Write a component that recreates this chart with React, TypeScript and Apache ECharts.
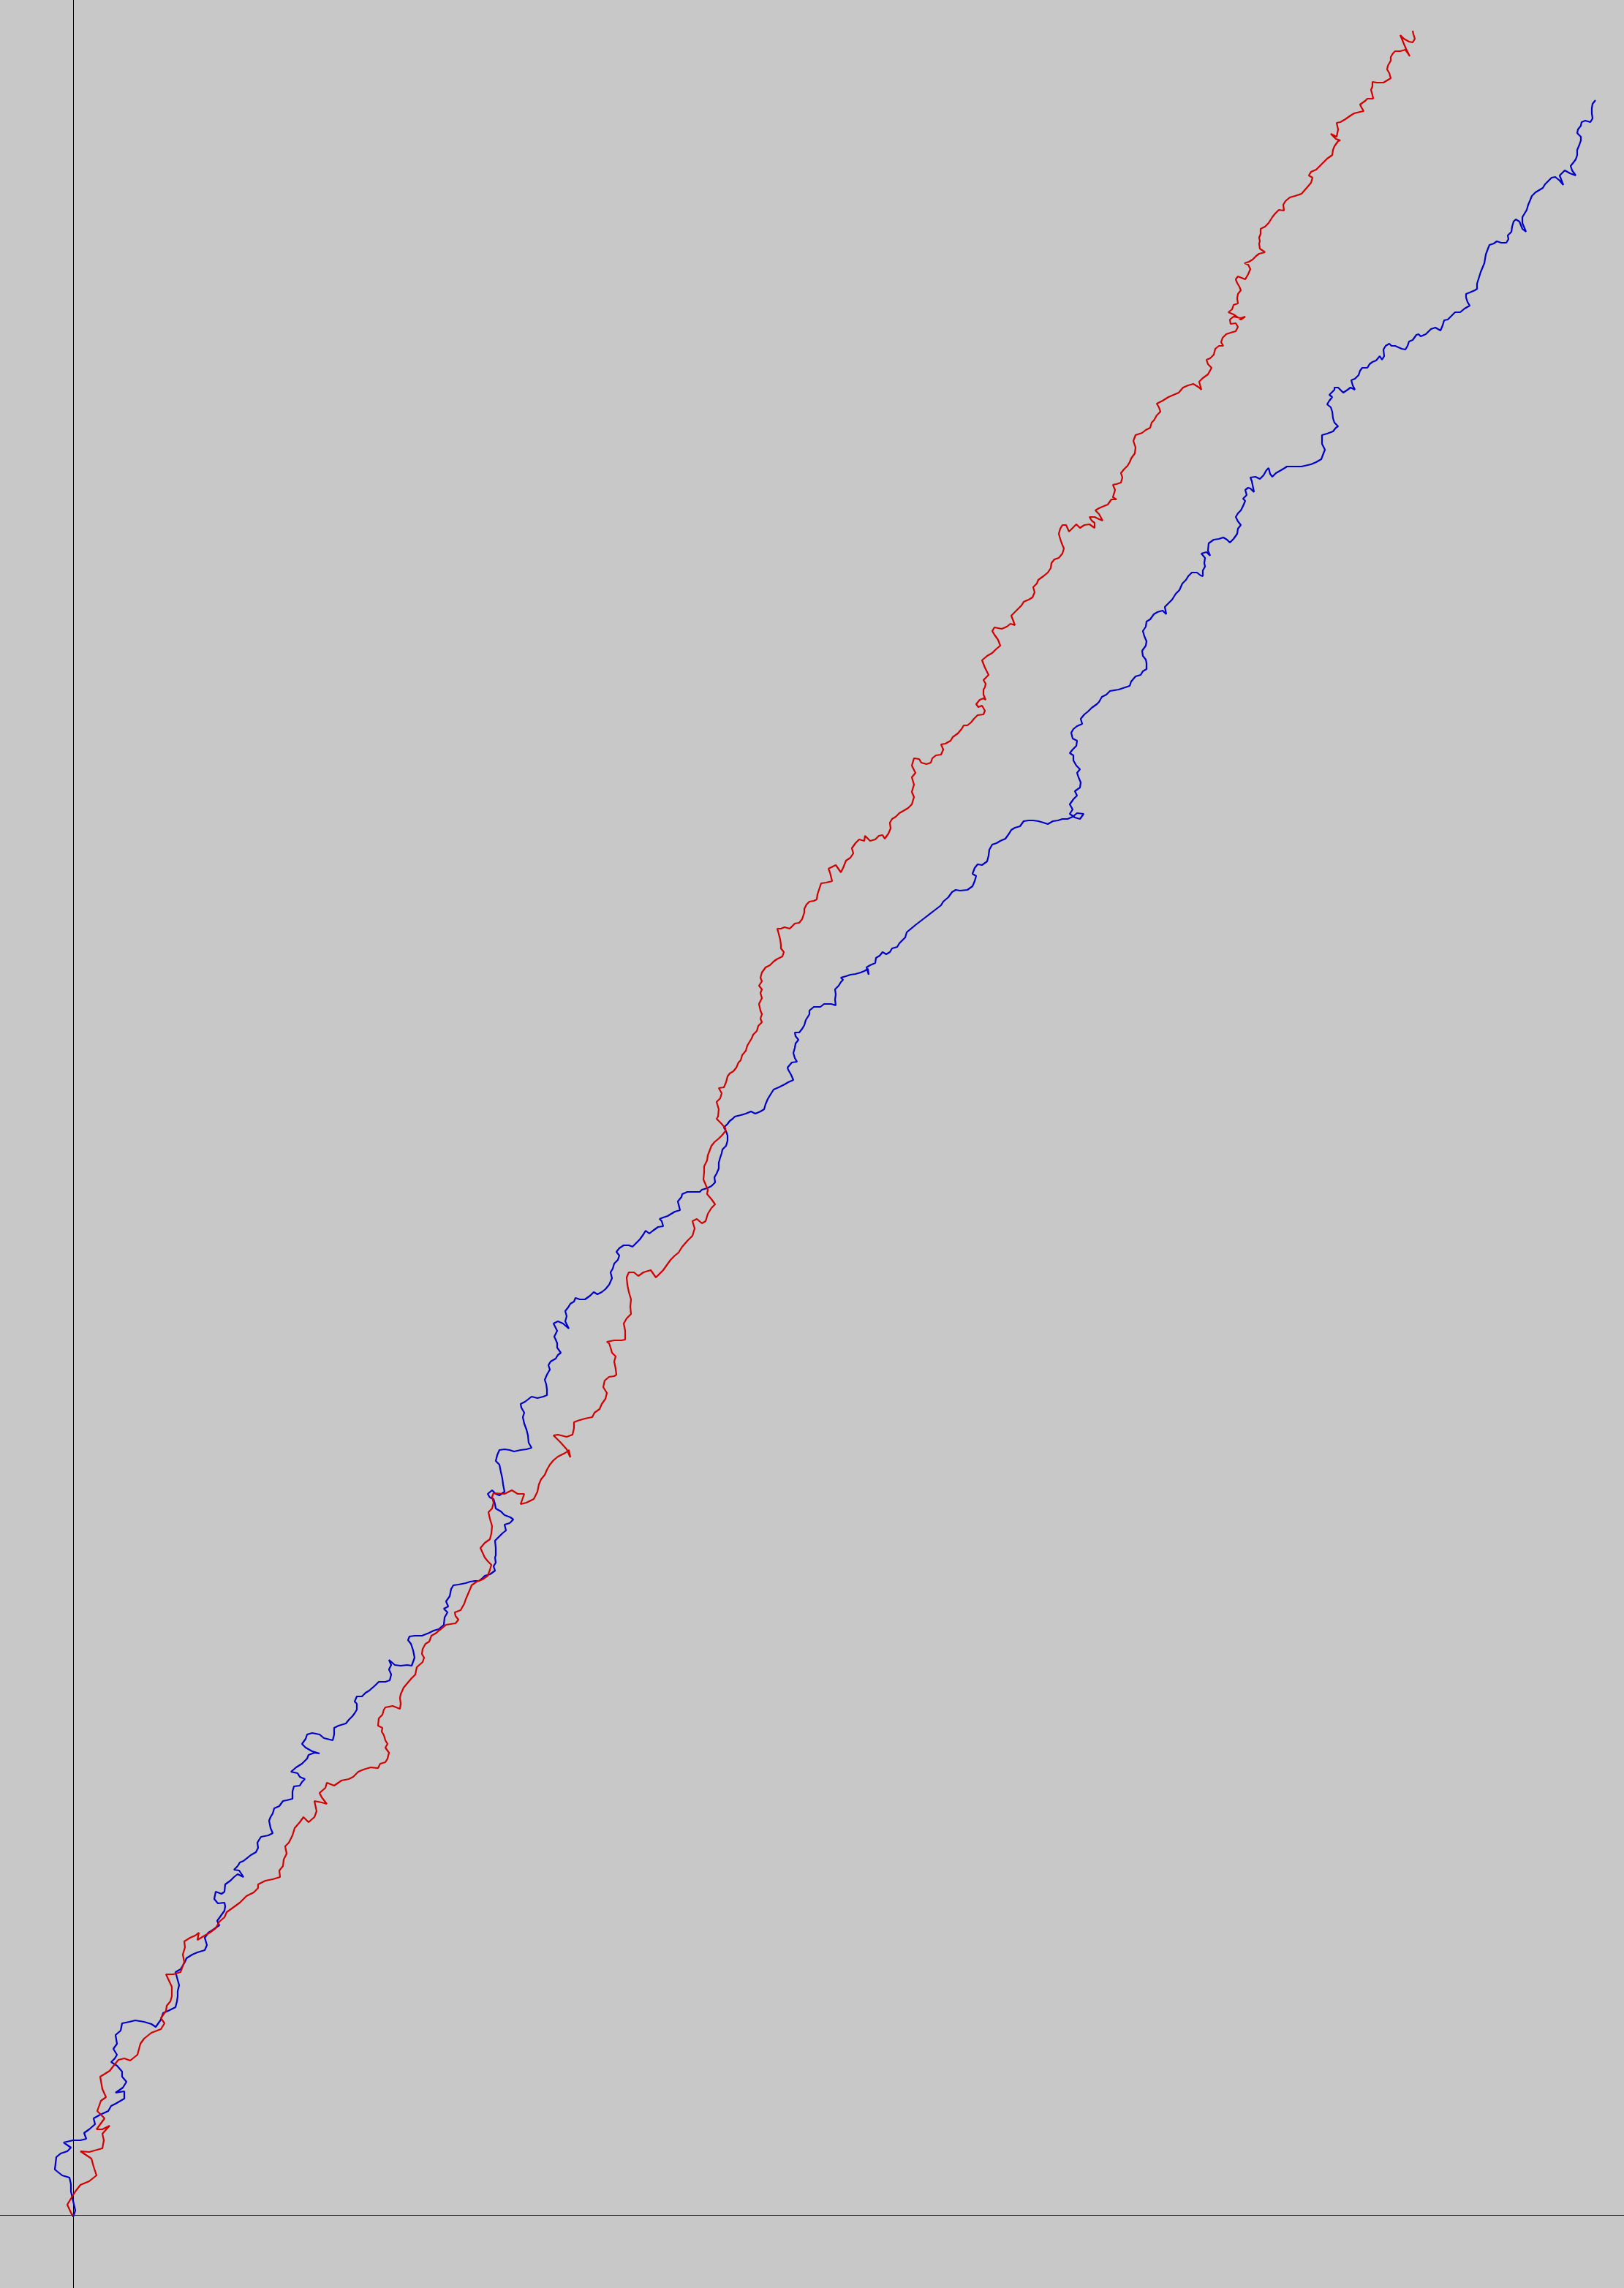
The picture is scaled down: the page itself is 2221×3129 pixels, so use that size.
import React, { useEffect, useRef } from "react";
import * as echarts from "echarts";

// Two 2D random walks; coordinates in walk units (origin at the axes crossing).
const redWalk: [number, number][] = [
  [0, 0], [-2, 1], [-8, 14], [3, 32], [10, 41], [22, 46], [32, 54], [28, 66], [25, 77], [10, 87],
  [22, 86], [40, 91], [42, 102], [40, 111], [50, 122], [40, 117], [32, 117], [43, 132], [33, 142], [38, 156],
  [45, 161], [40, 172], [37, 189], [42, 192], [50, 197], [57, 206], [62, 212], [70, 214], [78, 211], [88, 219],
  [92, 234], [97, 241], [107, 249], [120, 254], [125, 262], [120, 269], [127, 279], [128, 286], [133, 292], [135, 299],
  [135, 312], [127, 329], [137, 329], [147, 332], [152, 346], [150, 356], [153, 366], [152, 374], [160, 379], [167, 382],
  [172, 386], [170, 376], [180, 382], [187, 386], [195, 392], [200, 401], [207, 407], [210, 414], [217, 419], [228, 427],
  [237, 436], [247, 441], [253, 447], [253, 452], [263, 457], [273, 459], [283, 462], [282, 471], [287, 477], [288, 486],
  [292, 494], [290, 504], [295, 509], [300, 519], [303, 529], [310, 537], [315, 544], [322, 537], [330, 544], [333, 552],
  [330, 566], [340, 564], [347, 562], [340, 571], [337, 577], [345, 584], [347, 591], [357, 587], [367, 594], [377, 596],
  [383, 599], [390, 606], [397, 609], [407, 612], [417, 611], [420, 617], [427, 619], [430, 624], [432, 632], [427, 639],
  [430, 644], [427, 649], [425, 656], [422, 661], [423, 666], [417, 669], [418, 679], [423, 684], [425, 691], [427, 694],
  [437, 696], [447, 692], [448, 699], [447, 707], [448, 712], [452, 721], [457, 727], [463, 734], [468, 739], [470, 749],
  [478, 756], [480, 762], [477, 767], [478, 774], [482, 781], [487, 784], [490, 792], [497, 796], [500, 799], [503, 801],
  [510, 807], [523, 809], [527, 814], [523, 819], [522, 824], [530, 827], [535, 836], [537, 842], [540, 849], [543, 856],
  [545, 861], [552, 866], [560, 869], [567, 874], [570, 882], [572, 889], [567, 894], [563, 899], [557, 912], [563, 919],
  [570, 924], [572, 932], [573, 942], [570, 952], [568, 961], [573, 966], [575, 974], [573, 982], [575, 987], [590, 986],
  [600, 991], [608, 986], [617, 986], [612, 972], [620, 974], [630, 979], [635, 989], [637, 999], [640, 1006], [645, 1012],
  [648, 1019], [652, 1026], [657, 1032], [663, 1037], [673, 1042], [678, 1046], [680, 1036], [675, 1047], [667, 1056], [662, 1061],
  [657, 1066], [663, 1067], [675, 1064], [683, 1067], [685, 1076], [685, 1084], [690, 1086], [700, 1089], [710, 1091], [713, 1097],
  [720, 1102], [723, 1109], [728, 1116], [730, 1124], [725, 1132], [727, 1141], [733, 1146], [740, 1147], [743, 1149], [742, 1157],
  [740, 1167], [742, 1174], [737, 1179], [735, 1186], [733, 1192], [730, 1194], [740, 1196], [750, 1196], [755, 1197], [755, 1209],
  [753, 1219], [757, 1226], [763, 1232], [762, 1242], [763, 1252], [760, 1262], [758, 1272], [757, 1282], [760, 1289], [767, 1289],
  [773, 1284], [780, 1289], [790, 1292], [797, 1282], [802, 1287], [807, 1292], [812, 1299], [817, 1306], [823, 1312], [828, 1316],
  [833, 1324], [840, 1332], [847, 1339], [850, 1349], [847, 1359], [853, 1362], [860, 1356], [865, 1359], [868, 1369], [873, 1377],
  [878, 1382], [873, 1389], [867, 1396], [868, 1402], [865, 1409], [862, 1416], [863, 1426], [863, 1434], [867, 1442], [868, 1449],
  [873, 1462], [877, 1467], [883, 1472], [887, 1476], [892, 1482], [892, 1486], [887, 1492], [883, 1496], [880, 1499], [882, 1502],
  [883, 1512], [880, 1522], [885, 1527], [887, 1534], [883, 1541], [890, 1542], [893, 1549], [895, 1557], [898, 1561], [903, 1564],
  [907, 1569], [910, 1576], [913, 1579], [915, 1586], [920, 1592], [922, 1599], [925, 1604], [928, 1609], [930, 1614], [935, 1619],
  [937, 1626], [942, 1631], [940, 1636], [942, 1642], [940, 1647], [938, 1656], [942, 1664], [940, 1671], [942, 1676], [938, 1681],
  [942, 1687], [940, 1692], [942, 1699], [947, 1706], [953, 1709], [958, 1714], [962, 1717], [970, 1721], [972, 1727], [968, 1732],
  [968, 1737], [967, 1744], [965, 1752], [963, 1759], [968, 1759], [973, 1761], [980, 1759], [983, 1762], [987, 1766], [993, 1767],
  [997, 1772], [1000, 1781], [1000, 1786], [1003, 1792], [1007, 1796], [1013, 1797], [1017, 1799], [1018, 1806], [1020, 1812], [1023, 1821],
  [1030, 1822], [1038, 1824], [1035, 1836], [1033, 1841], [1043, 1846], [1050, 1836], [1053, 1842], [1057, 1852], [1063, 1856], [1067, 1862],
  [1065, 1869], [1070, 1876], [1075, 1881], [1082, 1879], [1083, 1886], [1090, 1879], [1097, 1881], [1102, 1886], [1107, 1887], [1110, 1882],
  [1115, 1889], [1118, 1896], [1117, 1904], [1120, 1909], [1125, 1912], [1130, 1917], [1137, 1921], [1142, 1924], [1147, 1929], [1150, 1939],
  [1147, 1946], [1150, 1956], [1147, 1966], [1152, 1972], [1147, 1982], [1150, 1992], [1157, 1991], [1160, 1986], [1167, 1984], [1173, 1986],
  [1175, 1992], [1180, 1996], [1187, 1997], [1190, 2004], [1187, 2011], [1193, 2012], [1200, 2016], [1203, 2021], [1210, 2026], [1215, 2032],
  [1218, 2037], [1223, 2037], [1228, 2041], [1232, 2046], [1237, 2051], [1245, 2052], [1247, 2057], [1243, 2064], [1238, 2062], [1235, 2066],
  [1240, 2072], [1245, 2074], [1248, 2072], [1245, 2079], [1245, 2086], [1247, 2089], [1248, 2094], [1245, 2099], [1252, 2106], [1247, 2116],
  [1243, 2126], [1250, 2132], [1257, 2136], [1262, 2141], [1268, 2146], [1265, 2154], [1260, 2161], [1257, 2166], [1260, 2171], [1270, 2169],
  [1277, 2172], [1282, 2176], [1288, 2174], [1285, 2182], [1283, 2187], [1290, 2194], [1297, 2201], [1300, 2206], [1307, 2209], [1312, 2212],
  [1315, 2219], [1313, 2226], [1318, 2231], [1320, 2236], [1327, 2241], [1333, 2246], [1337, 2252], [1338, 2259], [1342, 2264], [1348, 2266],
  [1353, 2272], [1355, 2279], [1352, 2286], [1350, 2292], [1348, 2299], [1350, 2306], [1353, 2311], [1358, 2311], [1362, 2302], [1367, 2307],
  [1372, 2312], [1377, 2307], [1383, 2311], [1390, 2312], [1397, 2307], [1397, 2314], [1393, 2317], [1390, 2322], [1397, 2322], [1403, 2319],
  [1408, 2317], [1403, 2326], [1398, 2331], [1403, 2334], [1410, 2337], [1415, 2339], [1420, 2346], [1427, 2346], [1422, 2349], [1425, 2359],
  [1422, 2366], [1427, 2367], [1433, 2369], [1435, 2376], [1433, 2382], [1437, 2387], [1442, 2392], [1445, 2397], [1447, 2402], [1452, 2409],
  [1453, 2417], [1450, 2426], [1453, 2434], [1462, 2437], [1467, 2441], [1473, 2444], [1475, 2451], [1478, 2454], [1482, 2461], [1487, 2466],
  [1485, 2472], [1482, 2477], [1490, 2481], [1498, 2486], [1505, 2489], [1512, 2492], [1518, 2499], [1525, 2502], [1532, 2504], [1540, 2499],
  [1543, 2496], [1540, 2507], [1545, 2512], [1552, 2517], [1557, 2526], [1552, 2531], [1550, 2537], [1555, 2539], [1560, 2544], [1562, 2552],
  [1567, 2556], [1573, 2556], [1570, 2561], [1572, 2567], [1577, 2572], [1583, 2574], [1590, 2576], [1593, 2582], [1590, 2587], [1583, 2586],
  [1582, 2592], [1587, 2596], [1597, 2594], [1603, 2596], [1597, 2592], [1587, 2599], [1580, 2602], [1585, 2606], [1587, 2612], [1593, 2614],
  [1592, 2621], [1593, 2627], [1597, 2632], [1595, 2637], [1592, 2642], [1590, 2647], [1593, 2651], [1603, 2647], [1607, 2654], [1610, 2661],
  [1607, 2667], [1602, 2669], [1608, 2671], [1613, 2674], [1618, 2679], [1622, 2682], [1630, 2684], [1623, 2689], [1622, 2696], [1623, 2699],
  [1622, 2704], [1624, 2709], [1624, 2716], [1630, 2719], [1635, 2724], [1640, 2732], [1644, 2737], [1649, 2742], [1656, 2741], [1655, 2749],
  [1658, 2754], [1664, 2759], [1671, 2761], [1680, 2764], [1687, 2772], [1693, 2779], [1695, 2786], [1690, 2789], [1693, 2794], [1700, 2797],
  [1705, 2802], [1710, 2807], [1715, 2812], [1722, 2817], [1723, 2824], [1725, 2829], [1730, 2836], [1733, 2837], [1727, 2839], [1720, 2846],
  [1728, 2842], [1730, 2852], [1728, 2861], [1733, 2862], [1740, 2866], [1747, 2871], [1752, 2874], [1760, 2876], [1765, 2877], [1762, 2882],
  [1760, 2886], [1767, 2891], [1770, 2894], [1778, 2894], [1777, 2899], [1775, 2906], [1777, 2911], [1777, 2917], [1783, 2916], [1792, 2916],
  [1797, 2919], [1802, 2922], [1800, 2929], [1797, 2934], [1798, 2939], [1802, 2946], [1802, 2951], [1805, 2956], [1808, 2959], [1815, 2959],
  [1822, 2961], [1827, 2954], [1828, 2952], [1823, 2962], [1820, 2969], [1815, 2981], [1820, 2976], [1827, 2972], [1832, 2971], [1835, 2976],
  [1833, 2982], [1832, 2987],
];

const blueWalk: [number, number][] = [
  [0, 0], [0, -3], [3, 6], [0, 19], [-3, 32], [-3, 42], [-5, 51], [-15, 54], [-25, 62], [-23, 79],
  [-17, 84], [-8, 87], [-3, 92], [-13, 99], [0, 102], [10, 102], [18, 104], [15, 112], [22, 117], [30, 124],
  [28, 132], [37, 137], [48, 142], [52, 149], [58, 152], [70, 159], [70, 169], [58, 167], [68, 174], [73, 182],
  [67, 189], [67, 196], [60, 204], [52, 209], [57, 214], [60, 219], [55, 227], [60, 234], [58, 246], [65, 252],
  [67, 262], [77, 264], [85, 266], [97, 264], [107, 261], [113, 257], [120, 267], [123, 276], [130, 279], [140, 284],
  [142, 292], [143, 299], [143, 306], [145, 314], [140, 332], [147, 336], [153, 346], [155, 351], [163, 356], [170, 359],
  [180, 362], [183, 369], [180, 379], [185, 386], [190, 389], [197, 394], [200, 396], [197, 402], [202, 409], [207, 416],
  [208, 422], [207, 427], [198, 426], [193, 432], [195, 442], [203, 439], [207, 442], [208, 452], [215, 457], [220, 462],
  [225, 466], [233, 462], [227, 471], [220, 472], [225, 477], [228, 482], [233, 484], [243, 492], [250, 496], [253, 502],
  [252, 509], [255, 514], [257, 517], [267, 519], [273, 522], [270, 529], [268, 539], [270, 544], [273, 549], [275, 556],
  [282, 559], [287, 566], [292, 567], [300, 569], [300, 579], [302, 586], [310, 587], [313, 592], [317, 596], [310, 599],
  [307, 604], [298, 606], [305, 612], [313, 617], [320, 624], [322, 629], [330, 632], [337, 631], [327, 634], [318, 639],
  [313, 644], [318, 651], [320, 657], [327, 659], [337, 657], [343, 652], [355, 649], [357, 657], [357, 666], [363, 669],
  [373, 672], [377, 677], [382, 682], [385, 686], [388, 691], [388, 699], [385, 702], [388, 709], [395, 709], [400, 714],
  [405, 717], [413, 724], [418, 729], [427, 729], [433, 731], [435, 739], [432, 746], [435, 752], [432, 759], [440, 752],
  [448, 751], [457, 752], [463, 751], [467, 762], [465, 772], [462, 781], [458, 786], [460, 791], [467, 792], [477, 792],
  [487, 796], [493, 799], [500, 801], [507, 807], [508, 817], [512, 824], [507, 829], [513, 832], [510, 839], [515, 846],
  [517, 856], [520, 861], [527, 862], [537, 864], [543, 866], [550, 867], [555, 867], [560, 871], [563, 874], [570, 876],
  [577, 881], [575, 887], [578, 892], [577, 899], [578, 902], [578, 912], [577, 922], [582, 927], [587, 932], [592, 936],
  [590, 944], [597, 946], [602, 951], [598, 954], [590, 957], [585, 962], [578, 966], [577, 972], [575, 979], [570, 981],
  [567, 986], [573, 991], [578, 986], [583, 984], [590, 989], [588, 999], [587, 1007], [585, 1016], [583, 1026], [578, 1031],
  [580, 1039], [583, 1046], [590, 1047], [597, 1046], [603, 1044], [612, 1046], [620, 1047], [627, 1049], [623, 1056], [622, 1066],
  [620, 1074], [617, 1082], [615, 1091], [617, 1097], [613, 1104], [612, 1109], [618, 1112], [627, 1119], [635, 1117], [643, 1119],
  [648, 1121], [648, 1129], [647, 1136], [645, 1142], [648, 1149], [652, 1156], [650, 1162], [653, 1167], [660, 1171], [663, 1176],
  [667, 1179], [662, 1186], [662, 1192], [660, 1197], [658, 1201], [662, 1209], [657, 1219], [663, 1222], [670, 1219], [678, 1212],
  [673, 1222], [675, 1229], [673, 1236], [677, 1241], [680, 1246], [685, 1249], [687, 1254], [693, 1252], [700, 1252], [707, 1257],
  [712, 1262], [717, 1259], [723, 1262], [728, 1266], [733, 1272], [737, 1281], [735, 1289], [738, 1294], [740, 1301], [745, 1306],
  [747, 1312], [743, 1317], [747, 1322], [753, 1326], [760, 1326], [765, 1324], [770, 1329], [775, 1334], [780, 1341], [783, 1346],
  [788, 1342], [793, 1346], [800, 1351], [807, 1352], [805, 1359], [802, 1362], [807, 1364], [813, 1366], [818, 1369], [823, 1372],
  [830, 1374], [828, 1382], [827, 1386], [832, 1392], [833, 1396], [840, 1399], [850, 1399], [857, 1399], [860, 1402], [867, 1404],
  [873, 1407], [878, 1412], [877, 1419], [880, 1424], [883, 1431], [883, 1439], [885, 1446], [887, 1452], [888, 1457], [893, 1462],
  [895, 1469], [895, 1476], [893, 1482], [890, 1487], [895, 1492], [898, 1496], [902, 1499], [905, 1502], [913, 1504], [920, 1506],
  [927, 1509], [933, 1506], [940, 1509], [945, 1512], [947, 1519], [950, 1526], [953, 1531], [958, 1539], [965, 1542], [973, 1546],
  [978, 1549], [985, 1552], [982, 1559], [978, 1566], [977, 1569], [983, 1576], [990, 1577], [987, 1582], [985, 1589], [987, 1596],
  [988, 1602], [992, 1607], [988, 1612], [987, 1617], [993, 1617], [997, 1622], [1000, 1627], [1002, 1634], [1007, 1642], [1007, 1647],
  [1013, 1652], [1022, 1652], [1027, 1656], [1037, 1656], [1043, 1654], [1042, 1662], [1043, 1669], [1042, 1676], [1047, 1681], [1050, 1686],
  [1053, 1689], [1050, 1692], [1057, 1694], [1063, 1696], [1070, 1697], [1077, 1699], [1082, 1701], [1087, 1704], [1088, 1696], [1085, 1706],
  [1090, 1709], [1097, 1712], [1098, 1719], [1103, 1722], [1107, 1727], [1112, 1724], [1117, 1727], [1120, 1732], [1127, 1734], [1130, 1739],
  [1133, 1742], [1138, 1747], [1140, 1754], [1152, 1764], [1165, 1774], [1178, 1784], [1187, 1791], [1190, 1796], [1197, 1802], [1202, 1809],
  [1207, 1812], [1213, 1811], [1223, 1812], [1230, 1817], [1233, 1824], [1235, 1831], [1230, 1834], [1233, 1842], [1237, 1847], [1243, 1846],
  [1250, 1851], [1252, 1859], [1253, 1867], [1257, 1874], [1263, 1876], [1268, 1879], [1275, 1882], [1280, 1889], [1283, 1894], [1288, 1897],
  [1295, 1899], [1300, 1906], [1307, 1907], [1313, 1907], [1320, 1906], [1327, 1904], [1333, 1902], [1340, 1906], [1347, 1907], [1353, 1909],
  [1360, 1909], [1367, 1912], [1373, 1917], [1382, 1916], [1377, 1909], [1370, 1911], [1363, 1916], [1367, 1922], [1363, 1929], [1368, 1936],
  [1373, 1941], [1370, 1947], [1377, 1952], [1378, 1959], [1375, 1966], [1373, 1972], [1377, 1977], [1372, 1982], [1368, 1989], [1368, 1996],
  [1363, 1999], [1367, 2004], [1372, 2009], [1373, 2016], [1367, 2019], [1365, 2027], [1368, 2032], [1373, 2036], [1380, 2039], [1378, 2046],
  [1383, 2052], [1388, 2056], [1393, 2061], [1400, 2066], [1403, 2069], [1407, 2076], [1413, 2079], [1418, 2084], [1430, 2086], [1445, 2091],
  [1447, 2097], [1453, 2104], [1460, 2106], [1463, 2111], [1468, 2114], [1468, 2122], [1467, 2127], [1463, 2132], [1462, 2139], [1467, 2146],
  [1468, 2152], [1465, 2159], [1463, 2166], [1467, 2172], [1468, 2179], [1473, 2182], [1478, 2189], [1483, 2192], [1490, 2194], [1495, 2189],
  [1493, 2199], [1500, 2206], [1503, 2209], [1508, 2217], [1513, 2222], [1517, 2231], [1522, 2236], [1525, 2241], [1530, 2246], [1537, 2246],
  [1542, 2242], [1545, 2241], [1545, 2249], [1548, 2254], [1547, 2259], [1548, 2266], [1543, 2272], [1550, 2274], [1555, 2269], [1552, 2276],
  [1553, 2286], [1560, 2291], [1567, 2292], [1573, 2294], [1578, 2291], [1582, 2287], [1587, 2292], [1592, 2299], [1593, 2306], [1597, 2311],
  [1593, 2316], [1590, 2322], [1593, 2327], [1597, 2331], [1600, 2337], [1603, 2344], [1600, 2347], [1605, 2352], [1603, 2359], [1607, 2362],
  [1610, 2361], [1615, 2356], [1613, 2366], [1612, 2371], [1610, 2376], [1617, 2377], [1623, 2374], [1628, 2379], [1632, 2386], [1635, 2389],
  [1637, 2381], [1640, 2377], [1645, 2382], [1652, 2386], [1657, 2389], [1660, 2391], [1680, 2391], [1693, 2394], [1700, 2397], [1707, 2401],
  [1710, 2409], [1712, 2414], [1708, 2422], [1708, 2434], [1715, 2436], [1723, 2439], [1727, 2444], [1730, 2446], [1725, 2451], [1723, 2457],
  [1722, 2466], [1720, 2472], [1715, 2476], [1718, 2481], [1722, 2486], [1718, 2489], [1725, 2496], [1725, 2499], [1730, 2499], [1733, 2496],
  [1737, 2492], [1743, 2496], [1747, 2499], [1753, 2496], [1750, 2502], [1748, 2509], [1753, 2511], [1758, 2516], [1760, 2522], [1763, 2526],
  [1770, 2526], [1773, 2531], [1777, 2534], [1782, 2536], [1787, 2542], [1790, 2537], [1793, 2542], [1792, 2551], [1795, 2556], [1800, 2559],
  [1803, 2556], [1808, 2556], [1817, 2552], [1822, 2551], [1825, 2556], [1827, 2562], [1832, 2564], [1837, 2571], [1840, 2572], [1843, 2569],
  [1850, 2572], [1857, 2579], [1863, 2581], [1870, 2577], [1873, 2584], [1875, 2591], [1880, 2592], [1885, 2597], [1890, 2602], [1897, 2602],
  [1903, 2607], [1910, 2611], [1907, 2616], [1905, 2622], [1905, 2627], [1910, 2629], [1917, 2632], [1920, 2634], [1920, 2641], [1925, 2657],
  [1930, 2669], [1932, 2681], [1935, 2689], [1937, 2694], [1943, 2696], [1947, 2699], [1953, 2697], [1960, 2697], [1963, 2702], [1962, 2707],
  [1967, 2712], [1968, 2719], [1970, 2726], [1973, 2729], [1978, 2726], [1982, 2716], [1987, 2712], [1982, 2724], [1982, 2732], [1985, 2737],
  [1988, 2742], [1990, 2749], [1993, 2756], [1995, 2761], [2000, 2766], [2005, 2769], [2010, 2772], [2013, 2777], [2017, 2781], [2022, 2786],
  [2027, 2787], [2033, 2782], [2038, 2776], [2033, 2789], [2040, 2796], [2047, 2792], [2055, 2789], [2050, 2796], [2048, 2802], [2052, 2807],
  [2055, 2811], [2057, 2817], [2057, 2824], [2060, 2831], [2062, 2837], [2062, 2842], [2057, 2847], [2058, 2852], [2062, 2857], [2063, 2862],
  [2068, 2864], [2075, 2862], [2078, 2867], [2077, 2874], [2077, 2881], [2078, 2887], [2082, 2892],
];

const xRange = { min: -100, max: 2121 };
const yRange = { min: -100, max: 3029 };

const BG = "#c8c8c8";
const RED = "#d00000";
const BLUE = "#0000c8";

export default function App() {
  const ref = useRef<HTMLDivElement>(null);

  useEffect(() => {
    if (!ref.current) return;
    const chart = echarts.init(ref.current, undefined, { renderer: "svg" });
    const axisCommon = {
      type: "value" as const,
      axisLine: { show: true, onZero: true, lineStyle: { color: "#000000", width: 1 } },
      axisTick: { show: false },
      axisLabel: { show: false },
      splitLine: { show: false },
    };
    chart.setOption({
      animation: false,
      backgroundColor: BG,
      grid: { left: 0, right: 0, top: 0, bottom: 0, containLabel: false },
      xAxis: { ...axisCommon, min: xRange.min, max: xRange.max },
      yAxis: { ...axisCommon, min: yRange.min, max: yRange.max },
      series: [
        {
          name: "walk B",
          type: "line",
          data: blueWalk,
          showSymbol: false,
          symbol: "none",
          lineStyle: { color: BLUE, width: 2.2 },
          z: 2,
        },
        {
          name: "walk A",
          type: "line",
          data: redWalk,
          showSymbol: false,
          symbol: "none",
          lineStyle: { color: RED, width: 2.2 },
          z: 3,
        },
      ],
    });
    return () => chart.dispose();
  }, []);

  return (
    <div
      ref={ref}
      style={{ position: "absolute", left: 0, top: 0, width: 2221, height: 3129 }}
    />
  );
}
